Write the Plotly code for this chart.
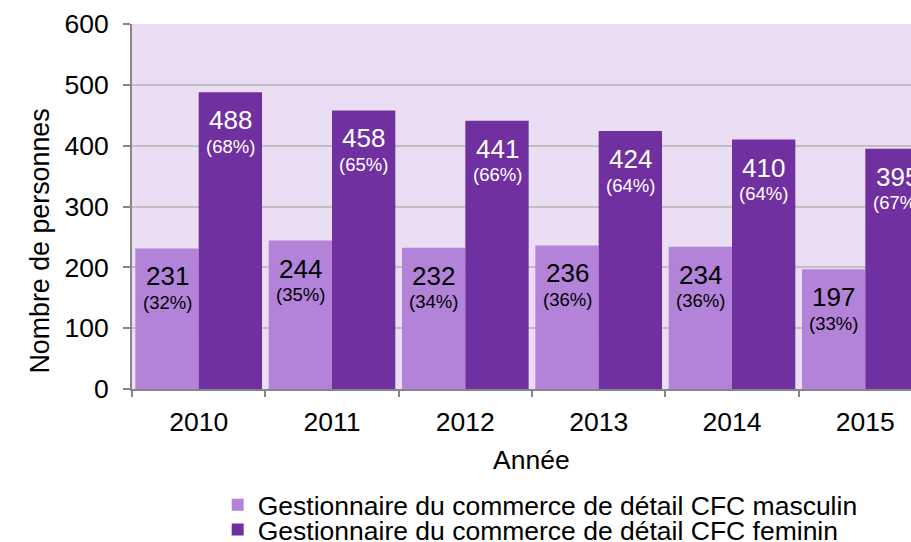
import plotly.graph_objects as go

years = ["2010", "2011", "2012", "2013", "2014", "2015"]
male = [231, 244, 232, 236, 234, 197]
female = [488, 458, 441, 424, 410, 395]
male_pct = ["32%", "35%", "34%", "36%", "36%", "33%"]
female_pct = ["68%", "65%", "66%", "64%", "64%", "67%"]
y_ticks = [0, 100, 200, 300, 400, 500, 600]

name_m = "Gestionnaire du commerce de détail CFC masculin"
name_f = "Gestionnaire du commerce de détail CFC feminin"

FONT = "Liberation Sans, Arial, sans-serif"
C_M = "#B383DA"
C_F = "#7030A0"
BARGAP = 0.05
HALF = (1 - BARGAP) / 4  # centre offset of each bar within its category

fig = go.Figure()
fig.add_trace(go.Bar(x=years, y=male, name=name_m, legend="legend",
                     marker=dict(color=C_M, line=dict(width=0))))
fig.add_trace(go.Bar(x=years, y=female, name=name_f, legend="legend2",
                     marker=dict(color=C_F, line=dict(width=0))))

ann = []
for i, (v, p) in enumerate(zip(male, male_pct)):
    ann.append(dict(x=i - HALF, y=v, xref="x", yref="y", text=str(v), showarrow=False,
                    yshift=-28, yanchor="middle", font=dict(size=26, color="black")))
    ann.append(dict(x=i - HALF, y=v, xref="x", yref="y", text=f"({p})", showarrow=False,
                    yshift=-54, yanchor="middle", font=dict(size=18.5, color="black")))
for i, (v, p) in enumerate(zip(female, female_pct)):
    ann.append(dict(x=i + HALF, y=v, xref="x", yref="y", text=str(v), showarrow=False,
                    yshift=-28, yanchor="middle", font=dict(size=26, color="white")))
    ann.append(dict(x=i + HALF, y=v, xref="x", yref="y", text=f"({p})", showarrow=False,
                    yshift=-54, yanchor="middle", font=dict(size=18.5, color="white")))

# axis titles
ann.append(dict(x=0, xref="paper", xshift=-92, y=0.404, yref="paper",
                text="Nombre de personnes", textangle=-90, showarrow=False,
                xanchor="center", yanchor="middle", font=dict(size=26.8)))
ann.append(dict(x=0.513, xref="paper", y=-0.195, yref="paper", text="Année",
                showarrow=False, xanchor="center", yanchor="middle", font=dict(size=26.5)))

fig.update_layout(
    width=911, height=542,
    margin=dict(l=132, r=0, t=24, b=153, autoexpand=False),
    paper_bgcolor="white", plot_bgcolor="#EBDEF4",
    barmode="group", bargap=BARGAP, bargroupgap=0,
    font=dict(family=FONT, size=26.5, color="black"),
    showlegend=True,
    legend=dict(x=0.11, y=-0.318, xanchor="left", yanchor="middle",
                font=dict(size=26.5), bgcolor="rgba(0,0,0,0)"),
    legend2=dict(x=0.11, y=-0.386, xanchor="left", yanchor="middle",
                 font=dict(size=26.5), bgcolor="rgba(0,0,0,0)"),
    annotations=ann,
    xaxis=dict(
        range=[-0.5, 5.3425], tickson="boundaries", ticks="outside", ticklen=6,
        tickcolor="#868686", tickwidth=2, showline=True, linecolor="#868686", linewidth=2,
        showgrid=False, tickfont=dict(size=26.5), automargin=False, ticklabelstandoff=8,
    ),
    yaxis=dict(
        range=[0, 600], tickvals=y_ticks, ticks="outside", ticklen=7,
        tickcolor="#868686", tickwidth=2, showline=True, linecolor="#868686", linewidth=2,
        showgrid=True, gridcolor="#BFBFBF", gridwidth=2, zeroline=False,
        tickfont=dict(size=26.5), ticklabelstandoff=9, automargin=False,
    ),
)

fig.write_html("out.html", config={"displayModeBar": False},
               post_script="document.body.style.margin='0';document.body.style.overflow='hidden';")
